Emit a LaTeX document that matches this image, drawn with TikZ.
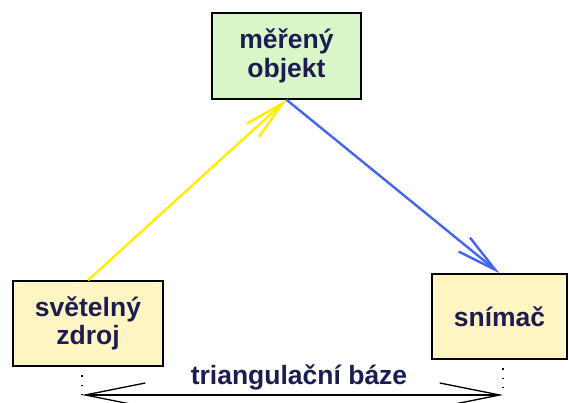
\documentclass[tikz,border=0pt]{standalone}
\usepackage{fontspec}
\setmainfont{Liberation Sans}
\usetikzlibrary{arrows.meta}
\definecolor{boxgreen}{HTML}{D9F6C9}
\definecolor{boxyellow}{HTML}{FFF5C2}
\definecolor{txtnavy}{HTML}{1C1C50}
\definecolor{lineyellow}{HTML}{FFEE00}
\definecolor{lineblue}{HTML}{4466EE}
\tikzset{
  box/.style={draw=black, line width=1.5pt, inner sep=0pt, align=center,
    text=txtnavy, font=\fontsize{26.5}{28.5}\selectfont\bfseries},
  ray/.style={line width=2.4pt, -{Straight Barb[length=40pt,width=18pt]}},
  basearrow/.style={line width=1.3pt, {Straight Barb[length=60pt,width=24pt,line width=1.3pt]}-{Straight Barb[length=60pt,width=24pt,line width=1.3pt]}},
  guide/.style={line width=1.3pt, dash pattern=on 1.3pt off 8pt}
}
\begin{document}
\begin{tikzpicture}[x=1pt,y=1pt]
\useasboundingbox (0,0) rectangle (569,403);
\clip (0,0) rectangle (569,403);
\node[box, fill=boxgreen, minimum width=149pt, minimum height=86pt] (obj) at (286.5,347) {měřený\\objekt};
\node[box, fill=boxyellow, minimum width=150pt, minimum height=85pt] (zdroj) at (88,79.5) {světelný\\zdroj};
\node[box, fill=boxyellow, minimum width=135pt, minimum height=85pt] (snimac) at (499.5,86.5) {snímač};
\draw[ray, lineyellow] (zdroj.north) -- (obj.south);
\draw[ray, lineblue] (obj.south) -- (snimac.north);
\coordinate (bl) at (82,8);
\coordinate (br) at (503,8);
\coordinate (dl) at (82,37);
\coordinate (dr) at (503,44);
\draw[guide] (dl) -- (bl);
\draw[guide] (dr) -- (br);
\draw[basearrow] (bl) -- (br);
\node[anchor=base, text=txtnavy, font=\fontsize{26.5}{28.5}\selectfont\bfseries] (lbl) at (299,18) {triangulační báze};
\end{tikzpicture}
\end{document}
